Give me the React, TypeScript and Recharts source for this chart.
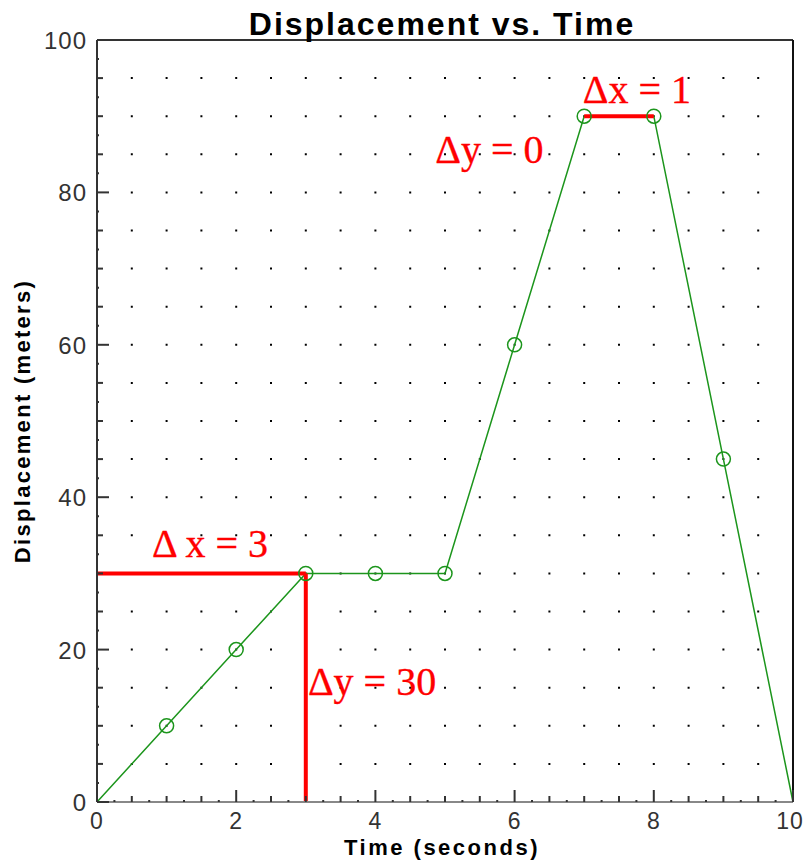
import {
  CartesianGrid,
  Line,
  LineChart,
  ReferenceDot,
  ReferenceLine,
  XAxis,
  YAxis,
} from 'recharts'

const times = [0, 1, 2, 3, 4, 5, 6, 7, 8, 9, 10]
const displacement = [0, 10, 20, 30, 30, 30, 60, 90, 90, 45, 0]

const xLabels = [0, 2, 4, 6, 8, 10]
const yLabels = [0, 20, 40, 60, 80, 100]

// red "rise / run" markers, in data units
const deltaSegments = [
  [{ t: 0, v: 30 }, { t: 3, v: 30 }],
  [{ t: 3, v: 0 }, { t: 3, v: 30 }],
  [{ t: 7, v: 90 }, { t: 8, v: 90 }],
]
const deltaNotes = [
  { text: 'Δ x = 3', x: 0.79, y: 32.2 },
  { text: 'Δy = 30', x: 3.03, y: 14.0 },
  { text: 'Δy = 0', x: 4.86, y: 83.9 },
  { text: 'Δx = 1', x: 6.98, y: 91.7 },
]

const steps = (from: number, to: number, by: number) => {
  const out: number[] = []
  for (let v = from; v <= to + 1e-9; v += by) out.push(Math.round(v * 100) / 100)
  return out
}
const xTicks = steps(0, 10, 0.25)
const yTicks = steps(0, 100, 2.5)
const yGrid = steps(5, 95, 5)

const data = times.map((t, i) => ({ t, d: displacement[i] }))

const sans = '"Liberation Sans", Arial, sans-serif'
const serif = '"Liberation Serif", "Times New Roman", serif'
const tickColor = '#333'
const green = '#1c951c'
const red = '#ff0000'

function XTick({ x, y, payload }: any) {
  const v = payload.value
  const major = xLabels.includes(v)
  const len = major ? 12 : v % 0.5 === 0 ? 6 : 2
  return (
    <g>
      <line x1={x} x2={x} y1={y} y2={y - len} stroke={tickColor} strokeWidth={2} />
      {major && (
        <text x={v === 10 ? x - 3 : x} y={y + 27} textAnchor="middle" fontSize={23} fill={tickColor} fontFamily={sans} letterSpacing={1}>
          {v}
        </text>
      )}
    </g>
  )
}

function YTick({ x, y, payload }: any) {
  const v = payload.value
  const major = yLabels.includes(v)
  const len = major ? 12 : v % 5 === 0 ? 6 : 2
  return (
    <g>
      <line x1={x} x2={x + len} y1={y} y2={y} stroke={tickColor} strokeWidth={2} />
      {major && (
        <text x={x - 10} y={y + 9} textAnchor="end" fontSize={24} fill={tickColor} fontFamily={sans} letterSpacing={1}>
          {v}
        </text>
      )}
    </g>
  )
}

const Dot = (props: any) => {
  const { cx, cy, index } = props
  if (index === 0 || index === data.length - 1) return <g key={index} />
  return <circle key={index} cx={cx} cy={cy} r={7} fill="none" stroke={green} strokeWidth={1.5} />
}

export default function App() {
  return (
    <div style={{ position: 'absolute', left: 0, top: 0, background: '#fff' }}>
      <LineChart width={805} height={862} data={data} margin={{ top: 40, right: 12, bottom: 30, left: 37 }}>
        <CartesianGrid
          horizontal
          vertical={false}
          horizontalValues={yGrid}
          stroke="#000"
          strokeWidth={2}
          strokeDasharray="2 32.8"
          strokeDashoffset={1}
        />
        <XAxis
          dataKey="t"
          type="number"
          domain={[0, 10]}
          ticks={xTicks}
          interval={0}
          tickSize={0}
          tickMargin={0}
          tick={<XTick />}
          height={30}
          axisLine={{ stroke: '#888', strokeWidth: 2 }}
          label={(p: any) => {
            const vb = p.viewBox
            return (
              <text x={vb.x + vb.width / 2 - 3} y={vb.y + 53} textAnchor="middle" fontSize={22} fontWeight="bold" fontFamily={sans} letterSpacing={2.5} fill="#000">
                Time (seconds)
              </text>
            )
          }}
        />
        <YAxis
          type="number"
          domain={[0, 100]}
          ticks={yTicks}
          interval={0}
          tickSize={0}
          tickMargin={0}
          tick={<YTick />}
          width={60}
          axisLine={{ stroke: '#333', strokeWidth: 2 }}
          label={(p: any) => {
            const vb = p.viewBox
            const cx = vb.x - 7
            const cy = vb.y + vb.height / 2
            return (
              <text x={cx} y={cy} transform={`rotate(-90, ${cx}, ${cy})`} textAnchor="middle" fontSize={22} fontWeight="bold" fontFamily={sans} letterSpacing={2.3} fill="#000">
                Displacement (meters)
              </text>
            )
          }}
        />
        <ReferenceLine
          y={100}
          stroke="#333"
          strokeWidth={2}
          label={(p: any) => {
            const vb = p.viewBox
            return (
              <text x={vb.x + vb.width / 2 - 3} y={vb.y - 5} textAnchor="middle" fontSize={32} fontWeight="bold" fontFamily={sans} letterSpacing={2} fill="#000">
                Displacement vs. Time
              </text>
            )
          }}
        />
        <ReferenceLine x={10} stroke="#111" strokeWidth={2} />
        <Line
          type="linear"
          dataKey="d"
          stroke={green}
          strokeWidth={1.5}
          dot={Dot}
          activeDot={false}
          isAnimationActive={false}
        />
        {deltaSegments.map((seg, i) => (
          <Line
            key={i}
            data={seg}
            dataKey="v"
            type="linear"
            stroke={red}
            strokeWidth={4}
            dot={false}
            activeDot={false}
            isAnimationActive={false}
          />
        ))}
        {deltaNotes.map((n, i) => (
          <ReferenceDot
            key={i}
            x={n.x}
            y={n.y}
            r={0}
            shape={(p: any) => (
              <text x={p.cx} y={p.cy} fontSize={40} fontFamily={serif} fill={red} stroke={red} strokeWidth={0.35}>
                {n.text}
              </text>
            )}
          />
        ))}
      </LineChart>
    </div>
  )
}
